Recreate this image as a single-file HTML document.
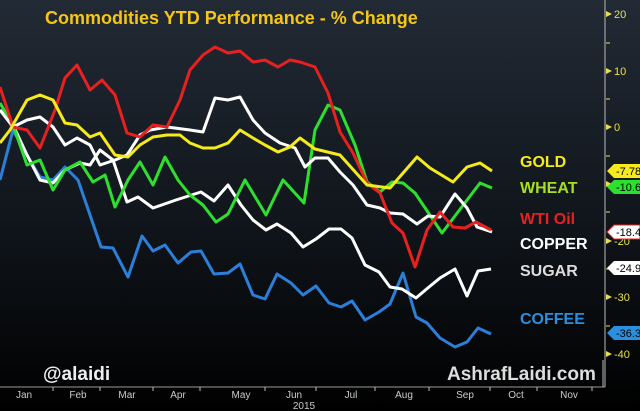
<!DOCTYPE html>
<html><head><meta charset="utf-8"><style>
body{margin:0;width:640px;height:411px;overflow:hidden;background:#000}
svg{display:block}
text{font-family:"Liberation Sans",Arial,sans-serif}
</style></head><body>
<svg width="640" height="411" viewBox="0 0 640 411">
<defs><linearGradient id="bg" x1="0" y1="0" x2="0" y2="1">
<stop offset="0" stop-color="#222a35"/><stop offset="0.55" stop-color="#10151b"/><stop offset="1" stop-color="#000"/></linearGradient></defs>
<rect width="640" height="411" fill="url(#bg)"/>
<text x="45" y="24" fill="#f5c518" font-size="18" font-weight="bold">Commodities YTD Performance - % Change</text>
<g fill="none" stroke-width="3" stroke-linejoin="round">
<polyline stroke="#2b7fd9" points="0,180 13,130 27,155 40,177 53,180 65,167 78,180 101,247 113,248 128,277 142,236 153,251 165,245 178,263 191,252 201,251 214,274 228,273 240,264 253,295 265,299 277,274 291,283 303,295 316,286 329,303 341,307 352,301 365,320 379,312 390,304 403,273 416,317 427,323 440,338 455,347 467,342 478,328 491,334"/>
<polyline stroke="#fff" points="0,110 13,125 27,155 40,180 53,183 65,170 80,163 90,165 100,150 113,160 127,202 138,197 153,208 176,200 201,192 214,201 228,185 241,205 253,220 266,230 277,224 291,233 303,247 316,239 329,229 341,229 352,238 365,265 379,272 390,287 402,289 416,298 429,287 440,278 455,269 467,296 478,271 491,269"/>
<polyline stroke="#2ee02e" points="0,103 13,125 27,165 40,160 53,190 65,170 80,162 93,182 105,175 115,207 128,180 140,162 153,185 165,157 178,180 190,195 203,205 216,222 228,214 245,180 266,215 283,180 304,203 315,130 328,105 340,110 355,145 367,182 380,192 392,182 403,183 415,193 442,233 480,183 492,188"/>
<polyline stroke="#fff" points="0,110 13,127 27,120 40,117 53,127 65,145 77,138 90,145 100,165 115,160 127,155 140,135 150,130 167,127 190,130 203,132 215,98 228,100 240,97 253,120 265,133 280,143 295,148 305,167 315,158 328,158 340,172 353,185 367,205 380,208 390,213 403,214 417,224 428,216 440,217 455,194 467,208 477,227 492,232"/>
<polyline stroke="#e82020" points="0,87 13,127 27,130 40,148 55,110 65,78 77,65 90,90 102,80 115,95 127,133 140,137 153,125 167,127 180,100 190,70 203,55 215,47 228,53 240,51 253,62 265,60 278,67 290,60 300,62 315,67 328,93 340,132 353,153 367,183 380,193 392,223 403,233 415,267 427,230 440,212 453,227 465,228 476,222 491,230"/>
<polyline stroke="#f5ea1a" points="0,143 10,130 27,100 40,95 53,100 65,123 77,125 90,137 100,133 115,155 128,157 140,145 153,137 167,135 180,135 190,143 203,148 215,148 228,143 240,130 253,138 265,145 278,152 290,147 300,138 315,149 340,155 367,185 390,188 417,157 430,168 453,182 467,167 480,163 492,171"/>
</g>
<g font-size="16" font-weight="bold">
<text x="520" y="167" fill="#f5ea1a">GOLD</text>
<text x="520" y="193" fill="#a8e01e">WHEAT</text>
<text x="520" y="224" fill="#e82020">WTI Oil</text>
<text x="520" y="249" fill="#fff">COPPER</text>
<text x="520" y="276" fill="#ddd">SUGAR</text>
<text x="520" y="324" fill="#2b8fe0">COFFEE</text>
</g>
<line x1="605" y1="0" x2="605" y2="387" stroke="#bbb" stroke-width="1"/>
<line x1="0" y1="387" x2="605" y2="387" stroke="#999" stroke-width="1"/>
<g fill="#e8e04a" font-size="11">
<polygon points="606,11 612,14 606,17"/><text x="614" y="18">20</text>
<polygon points="606,68 612,71 606,74"/><text x="614" y="75">10</text>
<polygon points="606,124 612,127 606,130"/><text x="614" y="131">0</text>
<polygon points="606,181 612,184 606,187"/><text x="614" y="188">-10</text>
<polygon points="606,238 612,241 606,244"/><text x="614" y="245">-20</text>
<polygon points="606,294 612,297 606,300"/><text x="614" y="301">-30</text>
<polygon points="606,351 612,354 606,357"/><text x="614" y="358">-40</text>
</g>
<g stroke="#e8e04a" stroke-width="1">
<line x1="606" y1="43" x2="610" y2="43"/><line x1="606" y1="99" x2="610" y2="99"/><line x1="606" y1="156" x2="610" y2="156"/><line x1="606" y1="212" x2="610" y2="212"/><line x1="606" y1="269" x2="610" y2="269"/><line x1="606" y1="326" x2="610" y2="326"/>
</g>
<g font-size="11" font-family="Liberation Serif">
<polygon points="607,171 614,164 640,164 640,178 614,178" fill="#f5ea1a"/><text x="616" y="175" fill="#000">-7.78</text>
<polygon points="607,187 614,180 640,180 640,194 614,194" fill="#2ee02e"/><text x="616" y="191" fill="#000">-10.6</text>
<polygon points="607,232 614,225 640,225 640,239 614,239" fill="#fff" stroke="#e82020"/><text x="616" y="236" fill="#000">-18.47</text>
<polygon points="607,268 614,261 640,261 640,275 614,275" fill="#fff"/><text x="616" y="272" fill="#000">-24.90</text>
<polygon points="607,333 614,326 640,326 640,340 614,340" fill="#2b8fe0"/><text x="616" y="337" fill="#000">-36.3</text>
</g>
<text x="43" y="380" fill="#eee" font-size="19" font-weight="bold">@alaidi</text>
<text x="447" y="380" fill="#ddd" font-size="19" font-weight="bold">AshrafLaidi.com</text>
<line x1="603" y1="360" x2="603" y2="387" stroke="#bbb"/>
<g stroke="#bbb"><line x1="53" y1="387" x2="53" y2="391"/><line x1="100" y1="387" x2="100" y2="391"/><line x1="153" y1="387" x2="153" y2="391"/><line x1="200" y1="387" x2="200" y2="391"/><line x1="265" y1="387" x2="265" y2="391"/><line x1="316" y1="387" x2="316" y2="391"/><line x1="375" y1="387" x2="375" y2="391"/><line x1="429" y1="387" x2="429" y2="391"/><line x1="490" y1="387" x2="490" y2="391"/><line x1="537" y1="387" x2="537" y2="391"/><line x1="592" y1="387" x2="592" y2="391"/></g>
<g fill="#ccc" font-size="10" text-anchor="middle">
<text x="24" y="398">Jan</text><text x="78" y="398">Feb</text><text x="127" y="398">Mar</text><text x="178" y="398">Apr</text><text x="241" y="398">May</text><text x="294" y="398">Jun</text><text x="351" y="398">Jul</text><text x="404" y="398">Aug</text><text x="465" y="398">Sep</text><text x="516" y="398">Oct</text><text x="569" y="398">Nov</text>
<text x="304" y="409">2015</text>
</g>
</svg>
</body></html>
